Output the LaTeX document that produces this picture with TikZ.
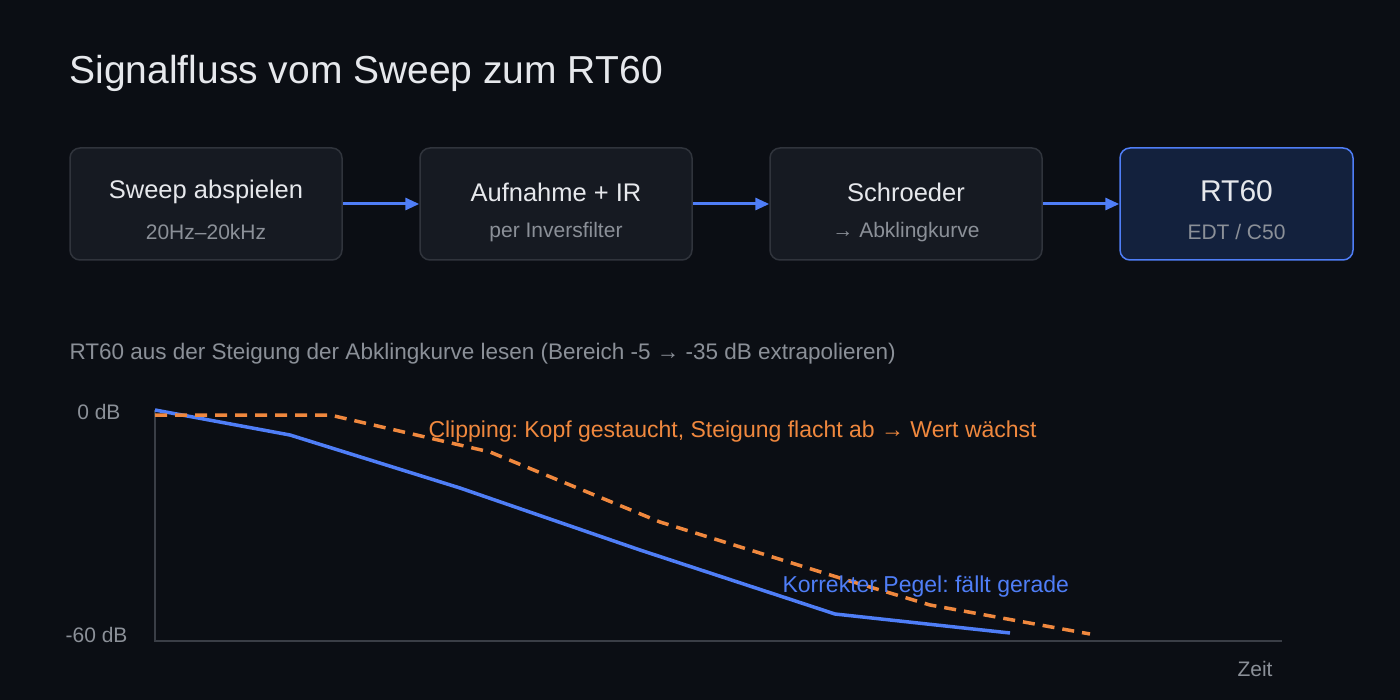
\documentclass[tikz,border=0pt]{standalone}
\usepackage{fontspec}
\setmainfont{Liberation Sans}
\frenchspacing
\usetikzlibrary{positioning,arrows.meta}
\definecolor{bg}{HTML}{0B0E14}
\definecolor{boxfill}{HTML}{161A22}
\definecolor{boxline}{HTML}{30343C}
\definecolor{hifill}{HTML}{13213D}
\definecolor{txt}{HTML}{E6E8EC}
\definecolor{sub}{HTML}{8B9098}
\definecolor{blue}{HTML}{4F7EF7}
\definecolor{orange}{HTML}{F0883E}
\definecolor{axis}{HTML}{3A3E46}
\tikzset{
  stage/.style={draw=boxline,fill=boxfill,line width=1.5pt,rounded corners=10pt,minimum width=272pt,minimum height=112pt},
  flow/.style={blue,line width=3pt,-{Triangle[length=14pt,width=12pt]}}
}
\begin{document}
\begin{tikzpicture}[x=1pt,y=-1pt]
   \fill[bg] (0,0) rectangle (1400,700);
   \useasboundingbox (0,0) rectangle (1400,700);
   \node[anchor=west,txt,font=\fontsize{39}{42}\selectfont] (title) at (66,73) {Signalfluss vom Sweep zum RT60};
   \begin{scope}[every node/.style={stage}]
    \node (s1) at (206,204) {};
    \node (s2) at (556,204) {};
    \node (s3) at (906,204) {};
    \node[fill=hifill,draw=blue,minimum width=233pt] (s4) at (1236.5,204) {};
   \end{scope}
   \begin{scope}[every node/.style={txt,font=\fontsize{25.5}{28}\selectfont}]
    \node at (206,192) {Sweep abspielen};
    \node at (556,192) {Aufnahme + IR};
    \node at (906,192) {Schroeder};
    \node[font=\fontsize{30}{32}\selectfont] at (1236.5,191) {RT60};
   \end{scope}
   \begin{scope}[every node/.style={sub,font=\fontsize{21}{23}\selectfont}]
    \node at (206,232) {20Hz–20kHz};
    \node at (556,232) {per Inversfilter};
    \node at (906,232) {→ Abklingkurve};
    \node at (1236.5,232) {EDT / C50};
   \end{scope}
   \draw[flow] (s1) -- (s2);
   \draw[flow] (s2) -- (s3);
   \draw[flow] (s3) -- (s4);
   % chart
   \node[anchor=west,sub,font=\fontsize{22.5}{24}\selectfont] (cap) at (66,354) {RT60 aus der Steigung der Abklingkurve lesen (Bereich -5 → -35 dB extrapolieren)};
   \coordinate (o) at (155,641);
   \draw[axis,line width=2pt] (155,410) -- (o) -- (1282,641);
   \node[anchor=east,sub,font=\fontsize{21}{23}\selectfont] (y0) at (124,412) {0 dB};
   \node[anchor=east,sub,font=\fontsize{21}{23}\selectfont] (y60) at (131,635) {-60 dB};
   \node[sub,font=\fontsize{21}{23}\selectfont] (t) at (1255,669) {Zeit};
   \draw[blue,line width=3.5pt] (155,410) -- (290,435) -- (460,488) -- (640,550) -- (835,614) -- (1010,633);
   \draw[orange,line width=3.5pt,dash pattern=on 12pt off 8pt] (155,415) -- (330,415) -- (490,452) -- (660,522) -- (840,578) -- (930,605) -- (1090,634);
   \node[anchor=west,orange,font=\fontsize{23}{25}\selectfont] (clip) at (425,432) {Clipping: Kopf gestaucht, Steigung flacht ab → Wert wächst};
   \node[anchor=west,blue,font=\fontsize{23}{25}\selectfont] (ok) at (779,587) {Korrekter Pegel: fällt gerade};
\end{tikzpicture}
\end{document}
